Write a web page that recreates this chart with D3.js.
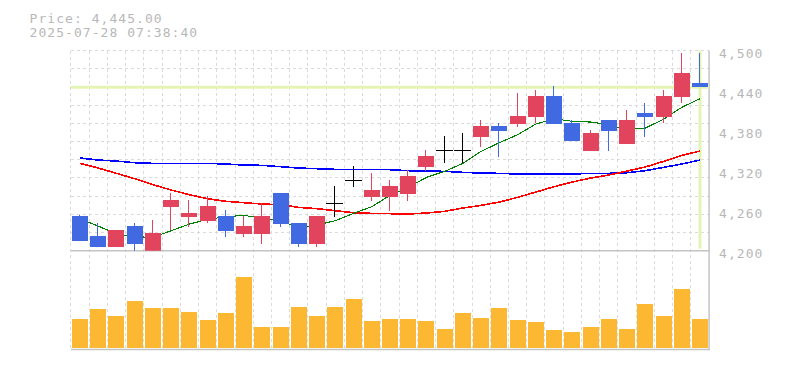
<!DOCTYPE html>
<html><head><meta charset="utf-8">
<script src="https://cdn.jsdelivr.net/npm/d3@7"></script>
<style>body{margin:0;background:#fff}svg{display:block}</style>
</head><body><svg id="c" width="785" height="370"></svg>
<script>
const dates = ["6/9","6/10","6/11","6/12","6/13","6/16","6/17","6/18","6/19","6/20",
  "6/23","6/24","6/25","6/26","6/27","6/30","7/1","7/2","7/3","7/4",
  "7/7","7/8","7/9","7/10","7/11","7/14","7/15","7/16","7/17","7/18",
  "7/22","7/23","7/24","7/25","7/28"];
const open  = [4252,4222,4205.5,4237,4200,4266,4251,4245,4252,4225.5,
  4225.5,4286.5,4241.5,4210.5,4271,4306,4281,4281,4285.5,4326,
  4351,4351,4371,4387,4390,4401,4432,4392,4350,4396,
  4360.5,4406.5,4401,4431,4451.5];
const high  = [4253,4241.5,4231,4241.5,4246,4286.5,4276,4282,4261,4252,
  4271,4286.5,4241.5,4252,4297,4327,4316.5,4306,4321,4351,
  4372,4377,4396,4392,4437,4441,4447,4396,4381,4396,
  4411,4421.5,4441,4497,4497];
const low   = [4214,4205,4205.5,4200,4200,4231,4236,4241,4221,4221,
  4210.5,4236,4206,4206,4251,4296,4275,4260,4275,4320,
  4331,4331,4356,4341,4386,4391,4390,4365,4350,4350,
  4360.5,4371,4391,4421,4445];
const close = [4215,4205.5,4231,4210.5,4226.5,4276,4256.5,4267,4230,4237,
  4252,4240.5,4210.5,4252,4271,4306,4291,4297,4312,4342,
  4351,4351,4387,4380,4402,4432,4390,4365,4376.5,4380,
  4396,4401,4432,4467,4445];
const volume = [2900,3900,3200,4700,4000,4000,3600,2800,3500,7100,
  2100,2100,4100,3200,4100,4900,2700,2900,2900,2700,
  1900,3500,3000,4000,2800,2600,1800,1600,2100,2900,
  1900,4400,3200,5900,2900];
const ma5  = [4248,4237,4225,4221,4220,4230,4240,4247,4251,4253,
  4248.5,4245,4234,4238.5,4245,4256,4266,4283,4295,4310,
  4319,4331,4349,4362,4374,4390,4398,4394,4393,4389,
  4381.5,4384,4397,4415,4428];
const ma25 = [4331,4324,4316,4308,4299,4291,4284,4278,4274,4272,
  4270,4269,4265,4263,4260,4257,4256,4255.5,4255,4256.5,
  4259,4264,4268,4273,4280,4288,4296,4303,4309,4313.5,
  4319.5,4325.5,4334,4343,4349.5];
const ma75 = [4339,4336,4334.5,4332,4331,4331,4331,4331,4330,4328.5,
  4328,4326,4324,4323,4322,4322,4322,4321.5,4320,4319.5,
  4319,4317.5,4316.5,4316,4315,4315,4315,4315,4316,4316,
  4317,4320,4325,4330,4336];
const priceTicks = [4200,4260,4320,4380,4440,4500];
const dateTicks = ["6/13","6/20","6/27","7/4","7/11","7/18","7/28"];
const lastPrice = 4445;
const titleLines = ["Price: 4,445.00","2025-07-28 07:38:40"];

const svg = d3.select("#c");
const L = 70.9, R = 709.1, PT = 50.7, PB = 250.7, VB = 349.5;
const font = "'DejaVu Sans Mono', monospace";
const x = d3.scaleBand().domain(dates).range([L, R]).padding(0);
const bw = x.bandwidth();
const cx = d => x(d) + bw / 2;
const y = d3.scaleLinear().domain([4200, 4500]).range([PB, PT]);
const yv = d3.scaleLinear().domain([0, 10000]).range([348, 248]);

// title
svg.append("g").selectAll("text").data(titleLines).join("text")
  .attr("x", 29.5).attr("y", (d, i) => 22.7 + i * 14.6)
  .attr("fill", "#b8b8b8").attr("font-family", font).attr("font-size", 13)
  .attr("letter-spacing", "1.05px").text(d => d);

// grid
const grid = svg.append("g").attr("stroke", "#dadada").attr("stroke-dasharray", "3,3")
  .attr("shape-rendering", "crispEdges");
d3.range(11).forEach(k => {
  const yy = PT + k * (PB - PT) / 11;
  grid.append("line").attr("x1", L).attr("x2", R).attr("y1", yy).attr("y2", yy);
});
d3.range(35).forEach(k => {
  const xx = L + k * bw;
  grid.append("line").attr("x1", xx).attr("x2", xx).attr("y1", PT).attr("y2", VB);
});

// borders
const bord = svg.append("g").attr("stroke", "#c4c4c4").attr("stroke-width", 1.5);
bord.append("line").attr("x1", L).attr("x2", R + 0.5).attr("y1", PB).attr("y2", PB);
bord.append("line").attr("x1", L).attr("x2", R + 0.5).attr("y1", VB).attr("y2", VB);
bord.append("line").attr("x1", R).attr("x2", R).attr("y1", PT).attr("y2", VB + 0.75);

// current price markers
const last = dates[dates.length - 1];
svg.append("line").attr("x1", L).attr("x2", R).attr("y1", y(lastPrice)).attr("y2", y(lastPrice))
  .attr("stroke", "#e4f5b3").attr("stroke-width", 3);
svg.append("line").attr("x1", cx(last)).attr("x2", cx(last)).attr("y1", PT).attr("y2", PB - 2)
  .attr("stroke", "#e4f5b3").attr("stroke-width", 3);

// clip
svg.append("clipPath").attr("id", "pc").append("rect").attr("x", L).attr("y", PT - 5).attr("width", R - L).attr("height", PB - PT + 5);
svg.append("clipPath").attr("id", "xc").append("rect").attr("x", L).attr("y", PB).attr("width", R - L - 0.5).attr("height", 30);

// moving averages
const line = d3.line().x((v, i) => cx(dates[i])).y(v => y(v));
const maG = svg.append("g").attr("clip-path", "url(#pc)").attr("fill", "none")
  .attr("shape-rendering", "crispEdges");
[[ma75, "#0000ff", 1.6], [ma25, "#ff0000", 1.6], [ma5, "#008000", 1.1]].forEach(([s, c, w]) => {
  maG.append("path").attr("d", line(s)).attr("stroke", c).attr("stroke-width", w);
});

// candles
const cg = svg.append("g").attr("clip-path", "url(#pc)").attr("shape-rendering", "crispEdges");
dates.forEach((d, i) => {
  const o = open[i], c = close[i];
  const col = c > o ? "#e2445e" : (c < o ? "#4169e1" : "#000");
  const xc = Math.round(cx(d));
  cg.append("rect").attr("x", xc - 1).attr("width", 1)
    .attr("y", y(high[i])).attr("height", Math.max(1, y(low[i]) - y(high[i]))).attr("fill", col);
  if (c === o) {
    cg.append("rect").attr("x", xc - 9).attr("width", 17).attr("y", Math.round(y(o))).attr("height", 1).attr("fill", col);
  } else {
    const t = y(Math.max(o, c)), b = y(Math.min(o, c));
    cg.append("rect").attr("x", xc - 8).attr("width", 16).attr("y", t)
      .attr("height", Math.max(1, b - t)).attr("fill", col);
  }
});

// volume
svg.append("g").attr("shape-rendering", "crispEdges").selectAll("rect").data(volume).join("rect")
  .attr("x", (v, i) => Math.round(cx(dates[i])) - 8).attr("width", 16)
  .attr("y", v => yv(v)).attr("height", v => yv(0) - yv(v)).attr("fill", "#fdb833");

// y axis
const ya = svg.append("g").attr("transform", `translate(${R},0)`)
  .call(d3.axisRight(y).tickValues(priceTicks).tickFormat(d3.format(",")).tickSize(0).tickPadding(10));
ya.select(".domain").remove();
ya.selectAll("text").attr("fill", "#b8b8b8").attr("font-family", font).attr("font-size", 13)
  .attr("letter-spacing", "1.05px").attr("dy", "0.5em");

// x axis
const xa = svg.append("g").attr("transform", `translate(0,${PB})`).attr("clip-path", "url(#xc)")
  .call(d3.axisBottom(x).tickValues(dateTicks).tickSize(0).tickPadding(8));
xa.select(".domain").remove();
xa.selectAll("text").attr("fill", "#b8b8b8").attr("font-family", font).attr("font-size", 10);
</script></body></html>
